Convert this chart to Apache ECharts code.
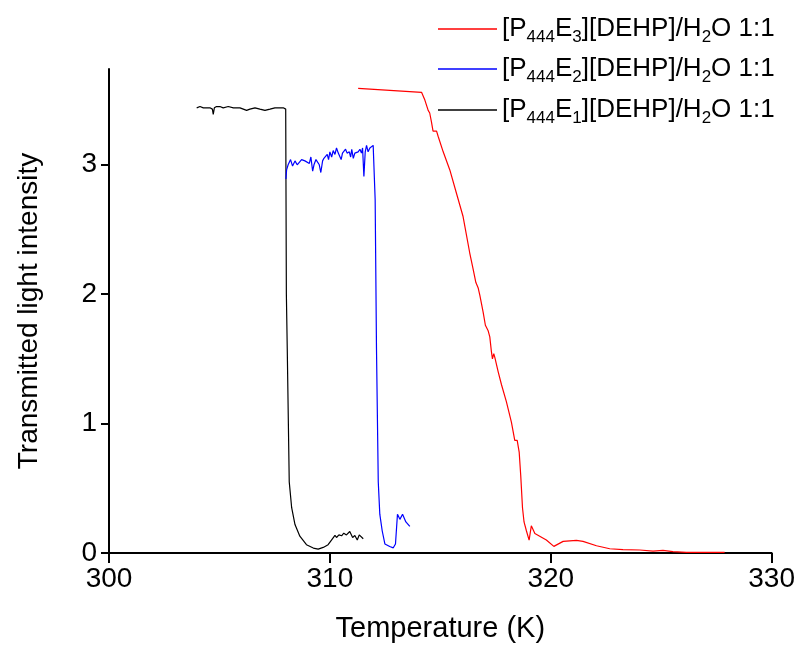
<!DOCTYPE html>
<html>
<head>
<meta charset="utf-8">
<script src="https://cdn.jsdelivr.net/npm/echarts@6/dist/echarts.min.js"></script>
<style>
html,body{margin:0;padding:0;background:#fff;}
#chart{width:798px;height:648px;}
</style>
</head>
<body>
<div id="chart"></div>
<script>
// ---- data (Temperature K, transmitted light intensity) ----
var seriesNames = ['E3', 'E2', 'E1'];
var legendLabels = {
  E3: '[P{s|444}E{s|3}][DEHP]/H{s|2}O 1:1',
  E2: '[P{s|444}E{s|2}][DEHP]/H{s|2}O 1:1',
  E1: '[P{s|444}E{s|1}][DEHP]/H{s|2}O 1:1'
};
var seriesColors = ['#ff0000', '#0000ff', '#000000'];
var xTicks = [300, 310, 320, 330];
var yTicks = [0, 1, 2, 3];

var e1Data = [[303.97,3.44],[304.12,3.45],[304.27,3.44],[304.42,3.44],[304.57,3.44],[304.68,3.43],[304.72,3.39],[304.77,3.44],[304.87,3.45],[305.02,3.45],[305.17,3.44],[305.40,3.45],[305.63,3.44],[305.93,3.44],[306.23,3.42],[306.38,3.43],[306.61,3.44],[306.83,3.43],[307.06,3.42],[307.29,3.43],[307.51,3.44],[307.74,3.44],[307.89,3.44],[308.00,3.43],[308.03,2.0],[308.07,1.58],[308.16,0.55],[308.27,0.35],[308.42,0.22],[308.64,0.13],[308.94,0.064],[309.25,0.038],[309.47,0.03],[309.70,0.043],[309.92,0.064],[310.03,0.09],[310.10,0.077],[310.23,0.136],[310.30,0.12],[310.41,0.14],[310.53,0.133],[310.63,0.153],[310.75,0.14],[310.90,0.166],[311.03,0.12],[311.13,0.135],[311.24,0.10],[311.33,0.14],[311.51,0.11]];

var e2Data = [[308.01,2.89],[308.04,2.96],[308.11,3.00],[308.22,3.04],[308.31,2.99],[308.42,3.03],[308.52,3.00],[308.61,3.01],[308.72,3.04],[308.79,3.05],[308.87,3.03],[308.94,3.04],[309.07,3.01],[309.14,3.06],[309.22,2.95],[309.28,3.00],[309.37,3.04],[309.43,3.05],[309.52,3.00],[309.59,2.94],[309.67,3.03],[309.73,3.05],[309.82,3.04],[309.88,3.08],[309.94,3.04],[310.00,3.10],[310.08,3.06],[310.15,3.11],[310.23,3.08],[310.30,3.13],[310.38,3.09],[310.45,3.10],[310.51,3.04],[310.57,3.09],[310.63,3.08],[310.71,3.12],[310.78,3.09],[310.88,3.10],[310.94,3.06],[310.99,3.12],[311.06,3.05],[311.13,3.09],[311.21,3.08],[311.28,3.10],[311.36,3.12],[311.43,3.09],[311.48,3.13],[311.54,2.91],[311.60,3.10],[311.66,3.15],[311.73,3.10],[311.81,3.13],[311.89,3.14],[311.96,3.15],[312.01,3.15],[312.05,2.73],[312.11,1.58],[312.19,0.55],[312.26,0.30],[312.37,0.17],[312.49,0.07],[312.71,0.05],[312.87,0.04],[312.97,0.07],[313.06,0.30],[313.17,0.26],[313.29,0.30],[313.44,0.24],[313.62,0.205]];

var e3Data = [[311.28,3.59],[314.15,3.56],[314.30,3.50],[314.45,3.42],[314.52,3.40],[314.60,3.33],[314.67,3.26],[314.72,3.27],[314.83,3.26],[314.90,3.22],[315.13,3.10],[315.43,2.96],[315.73,2.78],[316.03,2.60],[316.33,2.32],[316.49,2.19],[316.61,2.09],[316.71,2.05],[316.79,1.99],[316.94,1.86],[317.04,1.76],[317.16,1.72],[317.24,1.67],[317.31,1.56],[317.36,1.50],[317.42,1.54],[317.47,1.51],[317.62,1.40],[317.77,1.30],[317.99,1.17],[318.22,1.01],[318.37,0.87],[318.48,0.87],[318.57,0.78],[318.64,0.60],[318.72,0.35],[318.79,0.24],[318.90,0.17],[319.02,0.10],[319.12,0.21],[319.28,0.15],[319.50,0.13],[319.80,0.10],[320.14,0.051],[320.56,0.09],[321.16,0.097],[321.46,0.09],[322.07,0.056],[322.67,0.033],[323.27,0.026],[324.03,0.023],[324.63,0.015],[325.08,0.02],[325.53,0.01],[326.14,0.005],[327.04,0.005],[327.87,0.005]];

var seriesData = [e3Data, e2Data, e1Data];

// ---- chart ----
var FONT = 'Liberation Sans, Arial, sans-serif';
var chart = echarts.init(document.getElementById('chart'), null, {renderer: 'canvas'});

var legendTops = [16, 56, 97];
var legends = seriesNames.map(function (n, i) {
  return {
    data: [n],
    left: 438,
    top: legendTops[i],
    padding: 0,
    icon: 'rect',
    itemWidth: 59,
    itemHeight: 1.5,
    itemGap: 8,
    selectedMode: false,
    formatter: function (name) { return legendLabels[name]; },
    textStyle: {
      color: '#000',
      fontFamily: FONT,
      fontSize: 26,
      rich: {
        s: { fontSize: 17, fontFamily: FONT, color: '#000', padding: [17, 0, 0, 0] }
      }
    }
  };
});

var option = {
  animation: false,
  backgroundColor: '#fff',
  grid: { left: 109, right: 26, top: 69, bottom: 93, containLabel: false },
  legend: legends,
  xAxis: {
    type: 'value',
    min: 300, max: 330, interval: 10,
    name: 'Temperature (K)',
    nameLocation: 'middle',
    nameGap: 61,
    nameTextStyle: { fontFamily: FONT, fontSize: 29, color: '#000' },
    axisLine: { show: true, onZero: false, lineStyle: { color: '#000', width: 2 } },
    axisTick: { show: true, length: 10, lineStyle: { color: '#000', width: 2 }, customValues: xTicks },
    axisLabel: { fontFamily: FONT, fontSize: 28, color: '#000', margin: 12, customValues: xTicks },
    splitLine: { show: false }
  },
  yAxis: {
    type: 'value',
    min: 0, max: 3.74, interval: 1,
    name: 'Transmitted light intensity',
    nameLocation: 'middle',
    nameRotate: 90,
    nameGap: 66,
    nameTextStyle: { fontFamily: FONT, fontSize: 28, color: '#000' },
    axisLine: { show: true, onZero: false, lineStyle: { color: '#000', width: 2 } },
    axisTick: { show: true, length: 8, lineStyle: { color: '#000', width: 2 }, customValues: yTicks },
    axisLabel: { fontFamily: FONT, fontSize: 28, color: '#000', margin: 12, customValues: yTicks },
    splitLine: { show: false }
  },
  series: seriesNames.map(function (n, i) {
    return {
      name: n,
      type: 'line',
      data: seriesData[i],
      symbol: 'none',
      showSymbol: false,
      smooth: false,
      color: seriesColors[i],
      lineStyle: { color: seriesColors[i], width: 1.2 },
      z: 3 - i
    };
  })
};
chart.setOption(option);
</script>
</body>
</html>
